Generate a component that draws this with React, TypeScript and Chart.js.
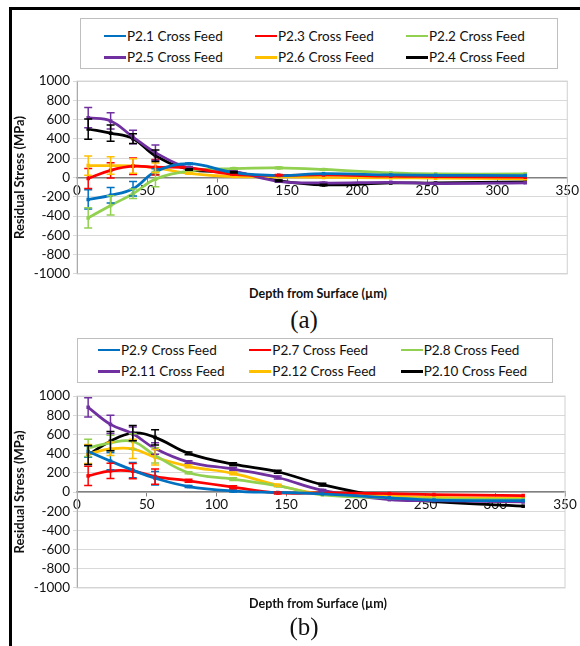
import React, { useEffect, useRef } from "react";
import { Chart, registerables } from "chart.js";
Chart.register(...registerables);

// ---------- data ----------
const DEPTHS = [8, 24, 40, 56, 80, 112, 144, 176, 224, 256, 320];
const X_TICK_STEP = 50;
const X_MAX = 350;
const Y_MIN = -1000;
const Y_MAX = 1000;
const Y_STEP = 200;

const COLORS = ["#0070C0", "#FF0000", "#92D050", "#7030A0", "#FFC000", "#000000"];

// Chart (a)
const A_LABELS = ["P2.1 Cross Feed", "P2.3 Cross Feed", "P2.2 Cross Feed", "P2.5 Cross Feed", "P2.6 Cross Feed", "P2.4 Cross Feed"];
const A_P21 = [-228, -185, -117, 60, 143, 50, 20, 40, 27, 23, 20];
const A_P23 = [-10, 74, 117, 107, 100, 33, 23, 27, 13, 10, 3];
const A_P22 = [-419, -290, -168, -17, 67, 93, 100, 84, 47, 37, 37];
const A_P25 = [620, 587, 420, 258, 100, 60, -40, -57, -50, -63, -55];
const A_P26 = [124, 124, 120, 100, 43, 10, 7, 0, -3, -7, -13];
const A_P24 = [503, 460, 403, 225, 84, 55, -33, -77, -57, -57, -45];
const A_ERR_P21 = [100, 80, 75, 30, 8, 8, 0, 0, 0, 0, 0];
const A_ERR_P23 = [104, 80, 85, 80, 8, 8, 8, 0, 0, 0, 0];
const A_ERR_P22 = [105, 100, 50, 80, 8, 8, 8, 8, 0, 0, 0];
const A_ERR_P25 = [105, 85, 70, 80, 8, 8, 8, 8, 0, 0, 0];
const A_ERR_P26 = [100, 90, 75, 50, 8, 0, 0, 0, 0, 0, 0];
const A_ERR_P24 = [105, 85, 50, 60, 8, 8, 8, 8, 0, 0, 0];

// Chart (b)
const B_LABELS = ["P2.9 Cross Feed", "P2.7 Cross Feed", "P2.8 Cross Feed", "P2.11 Cross Feed", "P2.12 Cross Feed", "P2.10 Cross Feed"];
const B_P29 = [423, 322, 228, 144, 57, 10, -5, -20, -60, -84, -90];
const B_P27 = [168, 221, 218, 161, 117, 50, -10, -10, -17, -27, -37];
const B_P28 = [460, 513, 527, 382, 201, 134, 65, -30, -60, -73, -77];
const B_P211 = [883, 705, 607, 453, 312, 238, 151, 17, -80, -90, -104];
const B_P212 = [396, 450, 450, 362, 268, 194, 70, -20, -40, -57, -63];
const B_P210 = [386, 530, 614, 570, 403, 290, 211, 77, -60, -100, -148];
const B_ERR_P29 = [60, 90, 80, 70, 10, 10, 0, 0, 0, 0, 0];
const B_ERR_P27 = [100, 80, 80, 80, 15, 15, 10, 0, 0, 0, 0];
const B_ERR_P28 = [90, 80, 80, 80, 10, 15, 10, 0, 0, 0, 0];
const B_ERR_P211 = [100, 95, 70, 60, 15, 15, 15, 10, 0, 0, 0];
const B_ERR_P212 = [100, 70, 100, 80, 15, 15, 10, 0, 0, 0, 0];
const B_ERR_P210 = [100, 100, 80, 80, 15, 15, 15, 15, 0, 0, 0];

const Y_TITLE = "Residual Stress (MPa)";
const X_TITLE = "Depth from Surface (µm)";

const FONT = "Lato, 'Open Sans', sans-serif";

// ---------- plugins ----------
const errorBarPlugin = {
  id: "errorBars",
  afterDatasetsDraw(chart: any) {
    const ctx = chart.ctx;
    const ys = chart.scales.y;
    chart.data.datasets.forEach((ds: any, di: number) => {
      const meta = chart.getDatasetMeta(di);
      const errs: number[] = ds.errorBars || [];
      ctx.save();
      ctx.strokeStyle = ds.borderColor;
      ctx.lineWidth = 1.5;
      meta.data.forEach((pt: any, i: number) => {
        const e = errs[i];
        if (!e) return;
        const v = ds.data[i].y;
        const top = ys.getPixelForValue(v + e);
        const bot = ys.getPixelForValue(v - e);
        const x = pt.x;
        ctx.beginPath();
        ctx.moveTo(x, top);
        ctx.lineTo(x, bot);
        ctx.moveTo(x - 4, top);
        ctx.lineTo(x + 4, top);
        ctx.moveTo(x - 4, bot);
        ctx.lineTo(x + 4, bot);
        ctx.stroke();
      });
      ctx.restore();
    });
  },
};

const borderPlugin = {
  id: "plotBorder",
  beforeDatasetsDraw(chart: any) {
    const { ctx, chartArea } = chart;
    ctx.save();
    ctx.strokeStyle = "#d0d0d0";
    ctx.lineWidth = 1;
    ctx.strokeRect(chartArea.left, chartArea.top, chartArea.right - chartArea.left, chartArea.bottom - chartArea.top);
    ctx.restore();
  },
};

type Props = {
  labels: string[];
  series: number[][];
  errors: number[][];
  left: number;
  top: number;
  width: number;
  height: number;
  padRight: number;
};

function StressChart(p: Props) {
  const ref = useRef<HTMLCanvasElement>(null);
  useEffect(() => {
    if (!ref.current) return;
    const chart = new Chart(ref.current, {
      type: "line",
      data: {
        datasets: p.series.map((s, i) => ({
          label: p.labels[i],
          data: s.map((v, j) => ({ x: DEPTHS[j], y: v })),
          errorBars: p.errors[i],
          borderColor: COLORS[i],
          backgroundColor: COLORS[i],
          borderWidth: 2.75,
          tension: 0.4,
          pointStyle: "rect",
          pointRadius: 2.5,
          pointBorderWidth: 0,
        })) as any,
      },
      options: {
        animation: false,
        responsive: false,
        maintainAspectRatio: false,
        layout: { padding: { top: 7, right: p.padRight, bottom: 8, left: 0 } },
        plugins: { legend: { display: false }, tooltip: { enabled: false } },
        scales: {
          x: {
            type: "linear",
            position: { y: 0 } as any,
            min: 0,
            max: X_MAX,
            ticks: { stepSize: X_TICK_STEP, font: { family: FONT, size: 13.5 }, color: "#111", padding: 1, callback: (v: any) => String(v) },
            grid: { drawOnChartArea: false, drawTicks: true, tickLength: 4, color: "#808080" },
            border: { color: "#808080", width: 1.5 },
          },
          y: {
            type: "linear",
            min: Y_MIN,
            max: Y_MAX,
            ticks: { stepSize: Y_STEP, font: { family: FONT, size: 13.5 }, color: "#111", padding: 3, callback: (v: any) => String(v) },
            grid: { color: "#d9d9d9", tickLength: 4 },
            border: { color: "#868686" },
            title: { display: true, text: Y_TITLE, font: { family: FONT, size: 13, weight: "bold" }, color: "#111", padding: 0 },
            afterFit(scale: any) {
              scale.width = 65;
            },
          },
        },
      },
      plugins: [borderPlugin, errorBarPlugin],
    });
    return () => chart.destroy();
  }, []);
  return (
    <canvas
      ref={ref}
      width={p.width}
      height={p.height}
      style={{ position: "absolute", left: p.left, top: p.top, width: p.width, height: p.height }}
    />
  );
}

function Legend({ labels, left, top, width, height, offset, padTop }: any) {
  return (
    <div
      style={{
        position: "absolute",
        left,
        top,
        width,
        height,
        border: "1px solid #bfbfbf",
        boxSizing: "border-box",
        display: "grid",
        gridTemplateColumns: "1fr 1fr 1fr",
        gridTemplateRows: "1fr 1fr",
        alignItems: "center",
        paddingLeft: offset,
        paddingTop: padTop,
        fontFamily: FONT,
        fontSize: 13.5,
        color: "#111",
      }}
    >
      {labels.map((l: string, i: number) => (
        <div key={l} style={{ display: "flex", alignItems: "center", whiteSpace: "nowrap" }}>
          <span style={{ display: "inline-block", width: 22, height: 2.5, background: COLORS[i], marginRight: 1 }} />
          <span>{l}</span>
        </div>
      ))}
    </div>
  );
}

function Text({ x, y, children, style }: any) {
  return (
    <div
      style={{
        position: "absolute",
        left: x - 150,
        top: y,
        width: 300,
        textAlign: "center",
        transform: "translateY(-50%)",
        whiteSpace: "nowrap",
        ...style,
      }}
    >
      {children}
    </div>
  );
}

export default function App() {
  const xTitleStyle = { fontFamily: FONT, fontWeight: "bold", fontSize: 12.5, color: "#111" };
  const capStyle = { fontFamily: "'Liberation Serif', 'DejaVu Serif', serif", fontSize: 25, color: "#111" };
  return (
    <div style={{ position: "fixed", left: 0, top: 0, width: 580, height: 646, background: "#fff", overflow: "hidden" }}>
      <div style={{ position: "absolute", left: 9, top: 7, width: 600, height: 700, borderLeft: "3px solid #000", borderTop: "3px solid #000" }} />
      <Legend labels={A_LABELS} left={80} top={18} width={478} height={51} offset={23} padTop={6} />
      <StressChart
        labels={A_LABELS}
        series={[A_P21, A_P23, A_P22, A_P25, A_P26, A_P24]}
        errors={[A_ERR_P21, A_ERR_P23, A_ERR_P22, A_ERR_P25, A_ERR_P26, A_ERR_P24]}
        left={12}
        top={70}
        width={568}
        height={215}
        padRight={9}
      />
      <Text x={318} y={293} style={xTitleStyle}>{X_TITLE}</Text>
      <Text x={304} y={320} style={capStyle}>(a)</Text>
      <Legend labels={B_LABELS} left={77} top={338} width={476} height={45} offset={20} padTop={0} />
      <StressChart
        labels={B_LABELS}
        series={[B_P29, B_P27, B_P28, B_P211, B_P212, B_P210]}
        errors={[B_ERR_P29, B_ERR_P27, B_ERR_P28, B_ERR_P211, B_ERR_P212, B_ERR_P210]}
        left={12}
        top={385}
        width={568}
        height={214}
        padRight={15}
      />
      <Text x={318} y={603} style={xTitleStyle}>{X_TITLE}</Text>
      <Text x={304} y={627} style={capStyle}>(b)</Text>
    </div>
  );
}
